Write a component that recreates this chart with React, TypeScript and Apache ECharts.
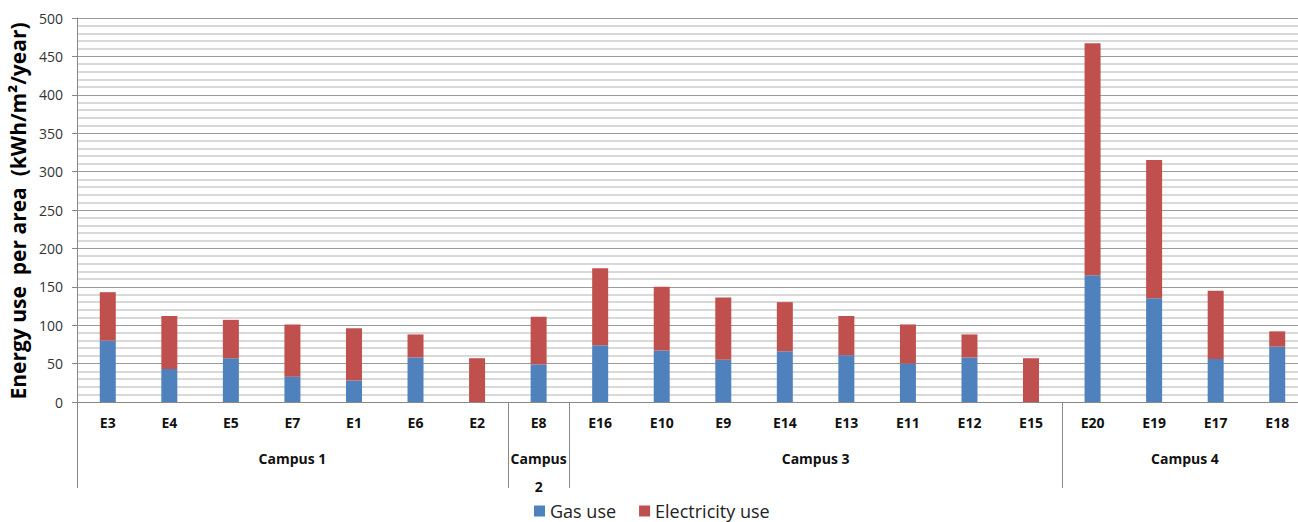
import React, { useEffect, useRef } from "react";
import * as echarts from "echarts";

const buildings = ["E3", "E4", "E5", "E7", "E1", "E6", "E2", "E8", "E16", "E10", "E9", "E14", "E13", "E11", "E12", "E15", "E20", "E19", "E17", "E18"];
const gasUse = [80, 43, 57, 33, 28, 58, 0, 49, 74, 67, 55, 66, 61, 50, 58, 0, 165, 135, 56, 72];
const electricityUse = [63, 69, 50, 68, 68, 30, 57, 62, 100, 83, 81, 64, 51, 51, 30, 57, 302, 180, 89, 20];
const campusNames = ["Campus 1", "Campus\n2", "Campus 3", "Campus 4"];
const campusSizes = [7, 1, 8, 4];
const seriesNames = ["Gas use", "Electricity use"];
const yTitle = "Energy use  per area  (kWh/m\u00B2/year)";

const FONT = "'Open Sans', sans-serif";

export default function App() {
  const ref = useRef<HTMLDivElement>(null);

  useEffect(() => {
    if (!ref.current) return;
    const chart = echarts.init(ref.current, undefined, { renderer: "svg" });

    const boundaries: number[] = [0];
    const centers: number[] = [];
    let acc = 0;
    campusSizes.forEach((s) => {
      centers.push(acc + s / 2);
      acc += s;
      boundaries.push(acc);
    });

    const option: any = {
      animation: false,
      backgroundColor: "#ffffff",
      textStyle: { fontFamily: FONT },
      grid: { left: 77, top: 18, width: 1231, height: 384, containLabel: false, outerBoundsMode: "none" },
      legend: {
        left: 534,
        top: 502,
        padding: 0,
        itemWidth: 11,
        itemHeight: 11,
        itemGap: 23,
        icon: "rect",
        textStyle: { fontSize: 18, lineHeight: 18, color: "#222", fontFamily: FONT },
        data: seriesNames,
      },
      xAxis: [
        {
          type: "category",
          data: buildings,
          axisLine: { show: true, lineStyle: { color: "#888888", width: 1 } },
          axisTick: { show: false },
          axisLabel: { fontWeight: "bold", fontSize: 14, color: "#111", margin: 13, fontFamily: FONT, interval: 0 },
          splitLine: { show: false },
        },
        {
          type: "value",
          min: 0,
          max: buildings.length,
          position: "bottom",
          axisLine: { show: false },
          splitLine: { show: false },
          axisTick: {
            show: true,
            customValues: boundaries,
            length: 86,
            lineStyle: { color: "#888888", width: 1 },
          },
          axisLabel: {
            show: true,
            customValues: centers,
            formatter: (v: number) => {
              const i = centers.indexOf(v);
              return i >= 0 ? campusNames[i] : "";
            },
            fontWeight: "bold",
            fontSize: 14,
            lineHeight: 28,
            color: "#111",
            margin: 42,
            fontFamily: FONT,
          },
        },
      ],
      yAxis: {
        type: "value",
        min: 0,
        max: 500,
        interval: 50,
        axisLine: { show: true, lineStyle: { color: "#888888", width: 1 } },
        axisTick: { show: true, length: 5, lineStyle: { color: "#888888" } },
        axisLabel: { fontSize: 14, color: "#333", margin: 14, fontFamily: FONT },
        splitLine: { show: true, lineStyle: { color: "#9a9a9a", width: 1 } },
        minorTick: { show: false, splitNumber: 5 },
        minorSplitLine: { show: true, lineStyle: { color: "#cccccc", width: 1.5 } },
      },
      series: [
        {
          name: seriesNames[0],
          type: "bar",
          stack: "total",
          data: gasUse,
          barWidth: 16,
          itemStyle: { color: "#4F81BD" },
        },
        {
          name: seriesNames[1],
          type: "bar",
          stack: "total",
          data: electricityUse,
          barWidth: 16,
          itemStyle: { color: "#C0504D" },
        },
      ],
      graphic: [
        {
          type: "text",
          x: 18,
          y: 211,
          rotation: Math.PI / 2,
          style: {
            text: yTitle,
            font: "bold 21px 'Open Sans', sans-serif",
            fill: "#000",
            textAlign: "center",
            textVerticalAlign: "middle",
          },
        },
      ],
    };

    chart.setOption(option);
    return () => chart.dispose();
  }, []);

  return (
    <div
      ref={ref}
      style={{ position: "absolute", left: 0, top: 0, width: 1298, height: 522, background: "#fff" }}
    />
  );
}
